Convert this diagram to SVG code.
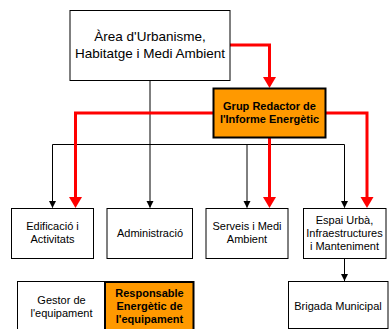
<svg xmlns="http://www.w3.org/2000/svg" width="389" height="329" viewBox="0 0 389 329">
<style>
.box{fill:#fff;stroke:#000;stroke-width:1}
.obox{fill:#ff9900;stroke:#000;stroke-width:2}
.t{font-family:"Liberation Sans",Arial,sans-serif;font-size:11px;fill:#000;text-anchor:middle}
.tl{font-family:"Liberation Sans",Arial,sans-serif;font-size:13.5px;fill:#000;text-anchor:middle}
.b{font-weight:bold}
.bl{fill:none;stroke:#000;stroke-width:1}
.rl{fill:none;stroke:#ff0000;stroke-width:3}
.ah{fill:#000}
.rh{fill:#ff0000}
</style>
<g id="connectors">
<path class="bl" d="M150,80.5 V144.5"/>
<path class="bl" d="M52.5,144.5 H344.5"/>
<path class="bl" d="M52.5,144.5 V207.5"/>
<path class="ah" d="M49,201 L56,201 L52.5,208 Z"/>
<path class="bl" d="M150,144.5 V207.5"/>
<path class="ah" d="M146.5,201 L153.5,201 L150,208 Z"/>
<path class="bl" d="M247,144.5 V207.5"/>
<path class="ah" d="M243.5,201 L250.5,201 L247,208 Z"/>
<path class="bl" d="M344.5,144.5 V207.5"/>
<path class="ah" d="M341,201 L348,201 L344.5,208 Z"/>
<path class="bl" d="M344.5,258.5 V281"/>
<path class="ah" d="M341,274 L348,274 L344.5,281 Z"/>
<path class="rl" d="M230,45 H269.5 V78"/>
<path class="rh" d="M263,77 L276,77 L269.5,88 Z"/>
<path class="rl" d="M213.5,113 H75.5 V198"/>
<path class="rh" d="M69,197 L82,197 L75.5,208 Z"/>
<path class="rl" d="M269.5,138 V198"/>
<path class="rh" d="M263,197 L276,197 L269.5,208 Z"/>
<path class="rl" d="M325.5,113 H367 V198"/>
<path class="rh" d="M360.5,197 L373.5,197 L367,208 Z"/>
</g>
<g id="area">
<rect class="box" x="70" y="10.5" width="160" height="70"/>
<text class="tl" x="150" y="41">Àrea d'Urbanisme,</text>
<text class="tl" x="150" y="58">Habitatge i Medi Ambient</text>
</g>
<g id="grup">
<rect class="obox" x="213.5" y="88.5" width="112" height="49"/>
<text class="t b" x="269.5" y="110">Grup Redactor de</text>
<text class="t b" x="269.5" y="122.5">l'Informe Energètic</text>
</g>
<g id="edificacio">
<rect class="box" x="11.5" y="208.5" width="82" height="50"/>
<text class="t" x="52.5" y="230">Edificació i</text>
<text class="t" x="52.5" y="243">Activitats</text>
</g>
<g id="administracio">
<rect class="box" x="107" y="208.5" width="85.5" height="50"/>
<text class="t" x="150" y="236.5">Administració</text>
</g>
<g id="serveis">
<rect class="box" x="206" y="208.5" width="82" height="50"/>
<text class="t" x="247" y="230">Serveis i Medi</text>
<text class="t" x="247" y="243">Ambient</text>
</g>
<g id="espai">
<rect class="box" x="303.5" y="208.5" width="82.5" height="50"/>
<text class="t" x="344.5" y="223.5">Espai Urbà,</text>
<text class="t" x="344.5" y="236.5">Infraestructures</text>
<text class="t" x="344.5" y="249.5">i Manteniment</text>
</g>
<g id="brigada">
<rect class="box" x="288.5" y="281.5" width="99.5" height="47"/>
<text class="t" x="338" y="309.5">Brigada Municipal</text>
</g>
<g id="gestor">
<rect class="box" x="17.5" y="281.5" width="87.5" height="60"/>
<text class="t" x="61.5" y="303.5">Gestor de</text>
<text class="t" x="61.5" y="317">l'equipament</text>
</g>
<g id="responsable">
<rect class="obox" x="105" y="282" width="88.5" height="60"/>
<text class="t b" x="149.5" y="297">Responsable</text>
<text class="t b" x="149.5" y="310">Energètic de</text>
<text class="t b" x="149.5" y="323">l'equipament</text>
</g>
</svg>
